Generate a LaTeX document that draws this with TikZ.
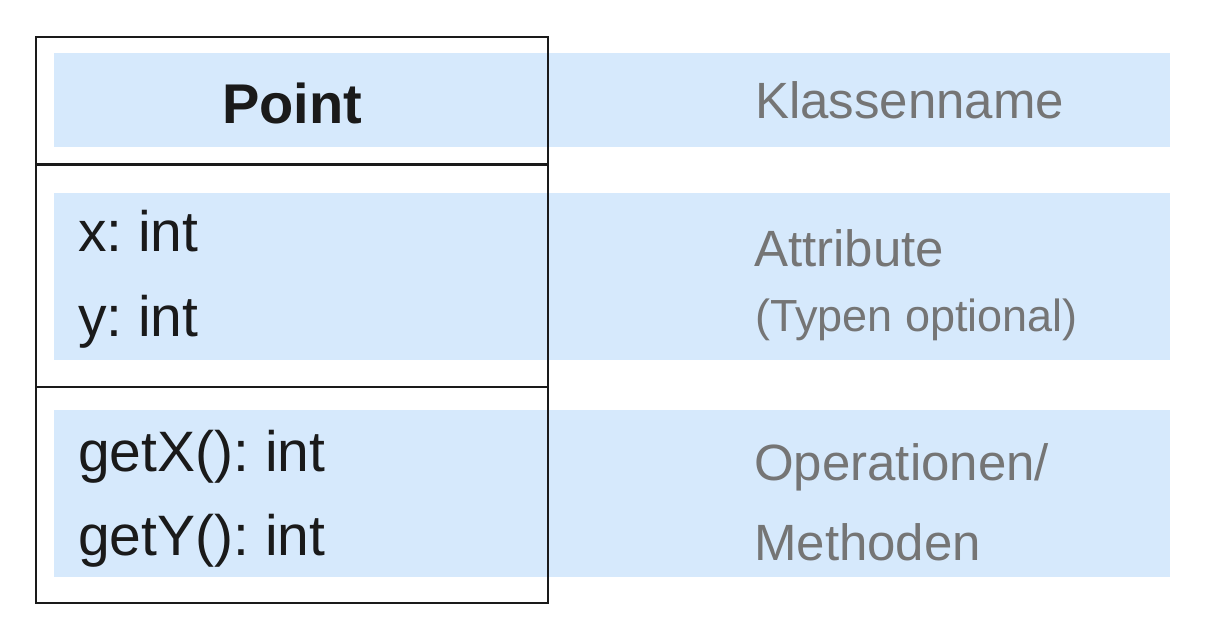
\documentclass[tikz,border=0pt]{standalone}
\usepackage{fontspec}
\setmainfont{Liberation Sans}
\frenchspacing
\definecolor{bandblue}{HTML}{D6E9FC}
\definecolor{notegray}{HTML}{757575}
\definecolor{ink}{HTML}{1A1A1A}
\begin{document}
\begin{tikzpicture}[x=1pt,y=-1pt,
  band/.style={fill=bandblue,draw=none},
  member/.style={anchor=base west,inner sep=0pt,text=ink,font=\fontsize{57}{57}\selectfont},
  note/.style={anchor=base west,inner sep=0pt,text=notegray,font=\fontsize{51}{51}\selectfont},
  smallnote/.style={anchor=base west,inner sep=0pt,text=notegray,font=\fontsize{45}{45}\selectfont},
  classline/.style={draw=ink,line width=2.5pt}]
\useasboundingbox (0,0) rectangle (1218,620);
% highlighted compartments
\fill[band] (54,53) rectangle (1170,147);
\fill[band] (54,193) rectangle (1170,360);
\fill[band] (54,410) rectangle (1170,577);
% class box with compartment dividers
\node[classline,minimum width=512pt,minimum height=566pt,inner sep=0pt] (box) at (292,320) {};
\coordinate (d1l) at (36,164.5);
\coordinate (d1r) at (548,164.5);
\coordinate (d2l) at (36,387);
\coordinate (d2r) at (548,387);
\draw[classline] (d1l) -- (d1r);
\draw[classline] (d2l) -- (d2r);
% class name
\node[anchor=base,inner sep=0pt,text=ink,font=\fontsize{56}{56}\selectfont\bfseries] (name) at (292,124) {Point};
% attributes
\node[member] (ax) at (78,252) {x: int};
\node[member] (ay) at (78,336.5) {y: int};
% operations
\node[member] (ox) at (78,471.5) {getX(): int};
\node[member] (oy) at (78,555) {getY(): int};
% explanations
\node[note] (n1) at (755,119) {Klassenname};
\node[note] (n2) at (754,266.5) {Attribute};
\node[smallnote] (n3) at (755,331) {(Typen optional)};
\node[note] (n4) at (754,480) {Operationen/};
\node[note] (n5) at (754,560) {Methoden};
\end{tikzpicture}
\end{document}
